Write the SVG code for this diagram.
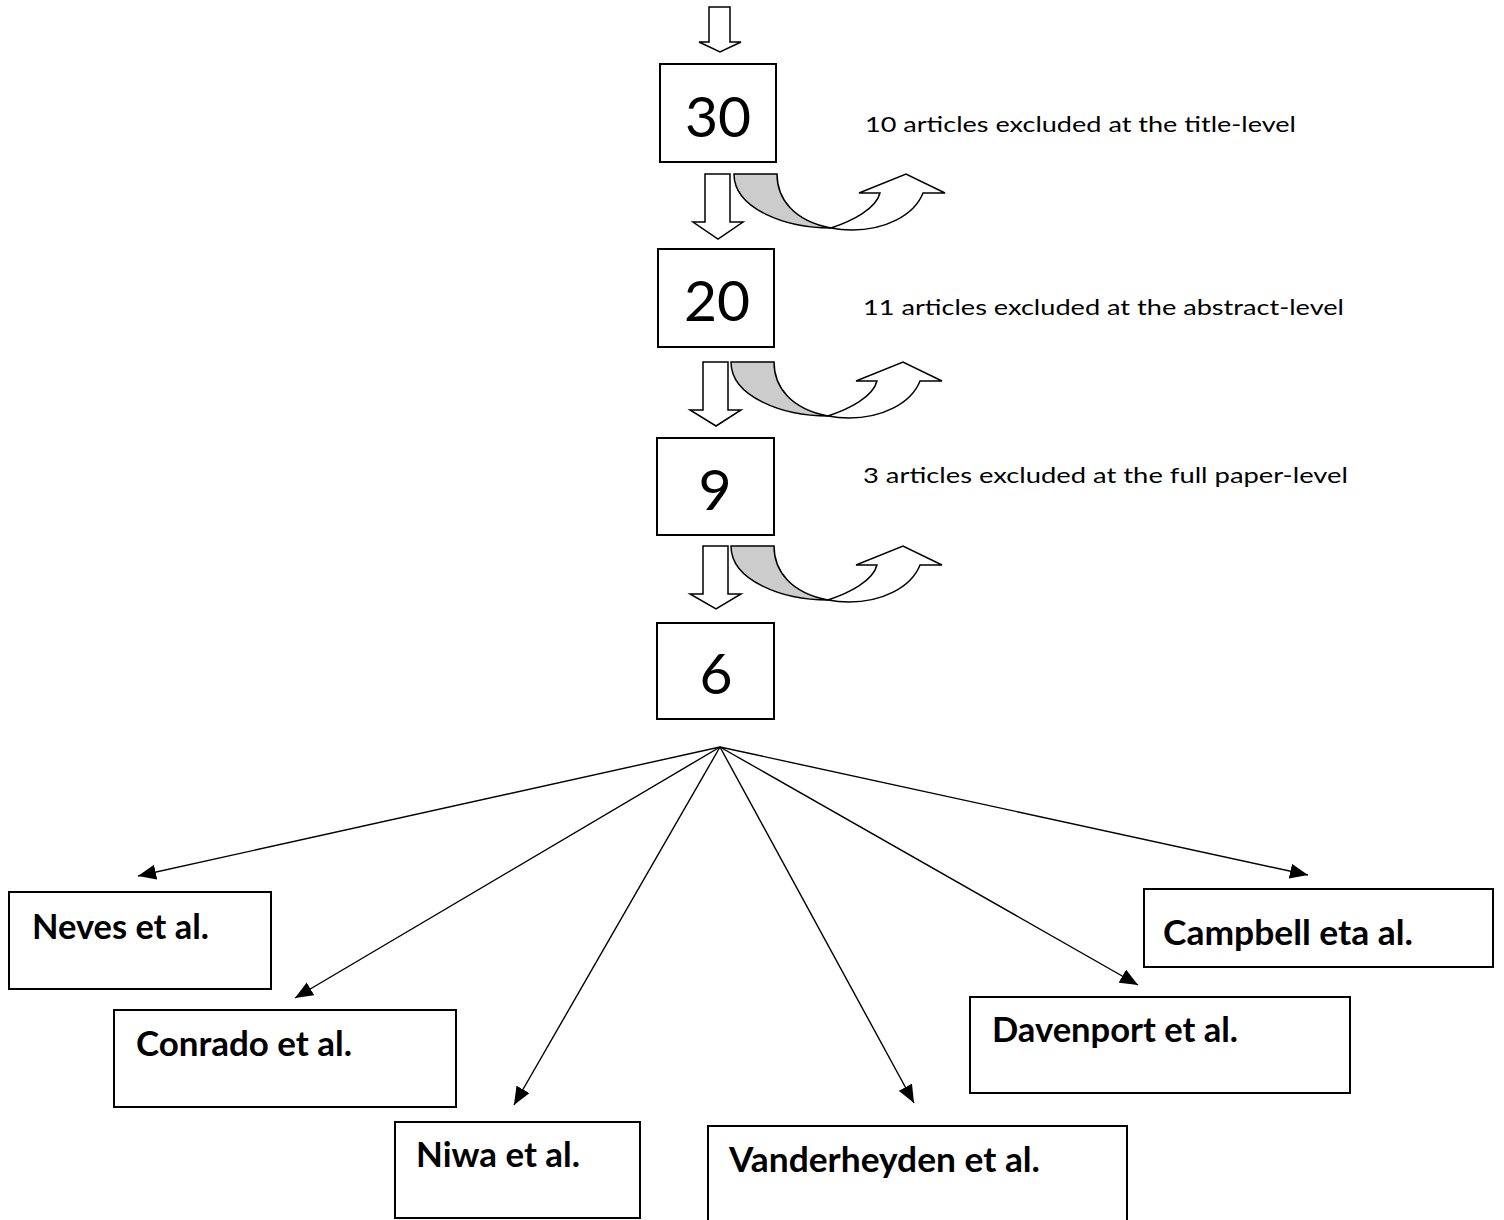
<svg xmlns="http://www.w3.org/2000/svg" width="1504" height="1220" viewBox="0 0 1504 1220">
  <defs>
    <style>
      .box { fill: #ffffff; stroke: #000000; stroke-width: 2; }
      .num { font-family: Lato, "Open Sans", "Liberation Sans", sans-serif; font-size: 57px; fill: #000; text-anchor: middle; }
      .note { font-family: Lato, "Open Sans", "Liberation Sans", sans-serif; font-size: 21px; fill: #000; }
      .lbl { font-family: Lato, "Open Sans", "Liberation Sans", sans-serif; font-size: 35px; font-weight: bold; fill: #000; }
      .blk { fill: #ffffff; stroke: #000000; stroke-width: 1.5; stroke-linejoin: miter; }
      .gry { fill: #cccccc; stroke: #000000; stroke-width: 1.5; }
      .fan { fill: none; stroke: #000000; stroke-width: 1.4; marker-end: url(#ah); }
    </style>
    <marker id="ah" markerUnits="userSpaceOnUse" markerWidth="19" markerHeight="15" refX="18" refY="7.5" orient="auto">
      <path d="M0,0 L18,7.5 L0,15 Z" fill="#000"/>
    </marker>
    <g id="curved">
      <path class="gry" d="M0,0 L43,0 C43,25 60,47 97,54 C52,54 0,35 0,0 Z"/>
      <path class="blk" d="M97,54 C118,47 142,35 146,19 L125,19 L172,0 L211,19 L189,19 C180,42 150,56 118,56 C108,56 102,55 97,54 Z"/>
    </g>
  </defs>

  <g id="block-arrows">
    <path class="blk" d="M709,7 L730,7 L730,42 L741,42 L720,52 L699,42 L709,42 Z"/>
    <path class="blk" d="M705,174 L730,174 L730,222 L743,222 L718,239 L693,222 L705,222 Z"/>
    <path class="blk" d="M703,362 L728,362 L728,410 L741,410 L716,426 L690,410 L703,410 Z"/>
    <path class="blk" d="M703,546 L728,546 L728,594 L741,594 L716,609 L690,594 L703,594 Z"/>
    <use href="#curved" x="734" y="174"/>
    <use href="#curved" x="731" y="362"/>
    <use href="#curved" x="731" y="546"/>
  </g>

  <g id="node-30">
    <rect class="box" x="660" y="64" width="116" height="98"/>
    <text class="num" x="718" y="137">30</text>
  </g>
  <g id="note-title">
    <text class="note" x="865" y="132" textLength="431" lengthAdjust="spacingAndGlyphs">10 articles excluded at the title-level</text>
  </g>
  <g id="node-20">
    <rect class="box" x="658" y="249" width="116" height="98"/>
    <text class="num" x="717" y="321">20</text>
  </g>
  <g id="note-abstract">
    <text class="note" x="863" y="315" textLength="481" lengthAdjust="spacingAndGlyphs">11 articles excluded at the abstract-level</text>
  </g>
  <g id="node-9">
    <rect class="box" x="657" y="438" width="117" height="97"/>
    <text class="num" x="715" y="510">9</text>
  </g>
  <g id="note-full">
    <text class="note" x="863" y="483" textLength="485" lengthAdjust="spacingAndGlyphs">3 articles excluded at the full paper-level</text>
  </g>
  <g id="node-6">
    <rect class="box" x="657" y="623" width="117" height="96"/>
    <text class="num" x="716" y="694">6</text>
  </g>

  <g id="connectors">
    <line class="fan" x1="720" y1="747" x2="138" y2="876"/>
    <line class="fan" x1="720" y1="747" x2="295" y2="998"/>
    <line class="fan" x1="720" y1="747" x2="514" y2="1105"/>
    <line class="fan" x1="720" y1="747" x2="914" y2="1103"/>
    <line class="fan" x1="720" y1="747" x2="1138" y2="985"/>
    <line class="fan" x1="720" y1="747" x2="1308" y2="875"/>
  </g>

  <g id="node-neves">
    <rect class="box" x="9" y="892" width="262" height="97"/>
    <text class="lbl" x="32" y="939" textLength="177" lengthAdjust="spacingAndGlyphs">Neves et al.</text>
  </g>
  <g id="node-conrado">
    <rect class="box" x="114" y="1010" width="342" height="97"/>
    <text class="lbl" x="136" y="1056" textLength="216" lengthAdjust="spacingAndGlyphs">Conrado et al.</text>
  </g>
  <g id="node-niwa">
    <rect class="box" x="395" y="1122" width="245" height="96"/>
    <text class="lbl" x="416" y="1167" textLength="164" lengthAdjust="spacingAndGlyphs">Niwa et al.</text>
  </g>
  <g id="node-vanderheyden">
    <rect class="box" x="708" y="1126" width="419" height="110"/>
    <text class="lbl" x="729" y="1172" textLength="311" lengthAdjust="spacingAndGlyphs">Vanderheyden et al.</text>
  </g>
  <g id="node-davenport">
    <rect class="box" x="970" y="997" width="380" height="96"/>
    <text class="lbl" x="992" y="1042" textLength="246" lengthAdjust="spacingAndGlyphs">Davenport et al.</text>
  </g>
  <g id="node-campbell">
    <rect class="box" x="1144" y="889" width="349" height="78"/>
    <text class="lbl" x="1163" y="945" textLength="250" lengthAdjust="spacingAndGlyphs">Campbell eta al.</text>
  </g>
</svg>
